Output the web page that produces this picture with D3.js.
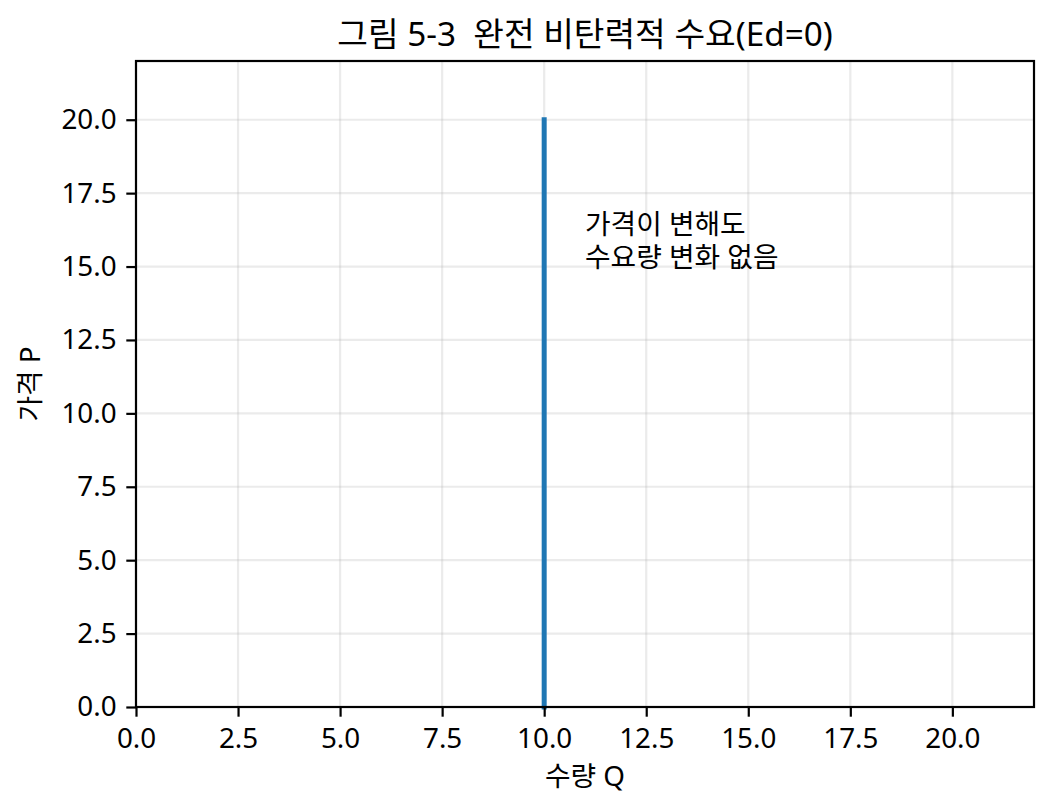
<!DOCTYPE html>
<html>
<head>
<meta charset="utf-8">
<script src="https://cdn.jsdelivr.net/npm/d3@7"></script>
<style>
  body { margin: 0; background: #fff; }
  text { font-family: "Noto Sans", "Noto Sans CJK KR", sans-serif; fill: #000; white-space: pre; }
</style>
</head>
<body>
<div id="chart"></div>
<script>
const WIDTH = 1054
const HEIGHT = 812
const MARGIN = { top: 61, right: 20, bottom: 105, left: 136 }

// Chart data
const TITLE = '그림 5-3  완전 비탄력적 수요(Ed=0)'
const X_LABEL = '수량 Q'
const Y_LABEL = '가격 P'
const X_DOMAIN = [0, 22]
const Y_DOMAIN = [0, 22]
const TICKS = [0, 2.5, 5, 7.5, 10, 12.5, 15, 17.5, 20]

// Perfectly inelastic demand: same quantity at every price
const quantity = [10, 10]
const price = [0, 20]

const noteLines = ['가격이 변해도', '수요량 변화 없음']
const notePos = { q: 11, p: 15 }

const FONT = 27.8
const TICK_LEN = 9.7
const TICK_PAD = 9.7
const FONT_FAMILY = '"Noto Sans", "Noto Sans CJK KR", sans-serif'

const innerW = WIDTH - MARGIN.left - MARGIN.right
const innerH = HEIGHT - MARGIN.top - MARGIN.bottom

const svg = d3.select('#chart')
    .append('svg')
    .attr('width', WIDTH)
    .attr('height', HEIGHT)

const g = svg.append('g')
    .attr('transform', `translate(${MARGIN.left},${MARGIN.top})`)

const x = d3.scaleLinear().domain(X_DOMAIN).range([0, innerW])
const y = d3.scaleLinear().domain(Y_DOMAIN).range([innerH, 0])

// Grid
g.append('g')
    .selectAll('line')
    .data(TICKS)
    .enter()
    .append('line')
    .attr('x1', d => x(d)).attr('x2', d => x(d))
    .attr('y1', 0).attr('y2', innerH)
    .attr('stroke', '#b0b0b0').attr('stroke-opacity', 0.25)
    .attr('stroke-width', 2.2)

g.append('g')
    .selectAll('line')
    .data(TICKS)
    .enter()
    .append('line')
    .attr('y1', d => y(d)).attr('y2', d => y(d))
    .attr('x1', 0).attr('x2', innerW)
    .attr('stroke', '#b0b0b0').attr('stroke-opacity', 0.25)
    .attr('stroke-width', 2.2)

// Demand line
const line = d3.line()
    .x(d => x(d[0]))
    .y(d => y(d[1]))

g.append('path')
    .datum(d3.zip(quantity, price))
    .attr('d', line)
    .attr('fill', 'none')
    .attr('stroke', '#1f77b4')
    .attr('stroke-width', 5)
    .attr('stroke-linecap', 'square')

// Axes
const fmt = d3.format('.1f')

const xAxis = g.append('g')
    .attr('transform', `translate(0,${innerH})`)
    .call(d3.axisBottom(x).tickValues(TICKS).tickFormat(fmt)
        .tickSize(TICK_LEN).tickPadding(TICK_PAD))

const yAxis = g.append('g')
    .call(d3.axisLeft(y).tickValues(TICKS).tickFormat(fmt)
        .tickSize(TICK_LEN).tickPadding(TICK_PAD))

for (const ax of [xAxis, yAxis]) {
    ax.select('.domain').remove()
    ax.selectAll('line').attr('stroke', '#000').attr('stroke-width', 2.2)
    ax.selectAll('text')
        .attr('font-size', FONT)
        .style('font-family', FONT_FAMILY)
        .attr('fill', '#000')
}
xAxis.selectAll('text').attr('dy', '0.76em')

// Frame
g.append('rect')
    .attr('width', innerW)
    .attr('height', innerH)
    .attr('fill', 'none')
    .attr('stroke', '#000')
    .attr('stroke-width', 2.2)

// Annotation (last line's baseline sits at the data point)
g.selectAll('.note')
    .data(noteLines)
    .enter()
    .append('text')
    .attr('class', 'note')
    .attr('x', x(notePos.q))
    .attr('y', (d, i) => y(notePos.p) - (noteLines.length - 1 - i) * FONT * 1.17)
    .attr('font-size', FONT)
    .text(d => d)

// Title and labels
svg.append('text')
    .attr('x', MARGIN.left + innerW / 2)
    .attr('y', 46)
    .attr('text-anchor', 'middle')
    .attr('font-size', 33.3)
    .text(TITLE)

svg.append('text')
    .attr('x', MARGIN.left + innerW / 2)
    .attr('y', 786)
    .attr('text-anchor', 'middle')
    .attr('font-size', FONT)
    .text(X_LABEL)

svg.append('text')
    .attr('transform', `translate(40,${MARGIN.top + innerH / 2}) rotate(-90)`)
    .attr('text-anchor', 'middle')
    .attr('font-size', FONT)
    .text(Y_LABEL)
</script>
</body>
</html>
